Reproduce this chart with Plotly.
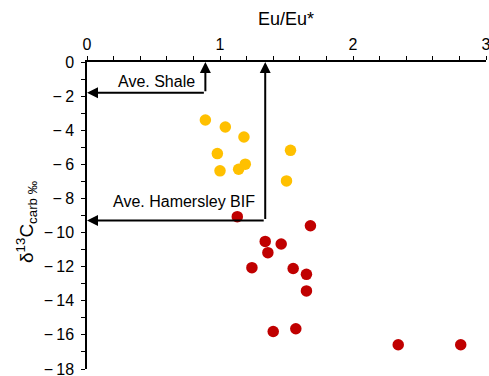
import plotly.graph_objects as go

# Data
yellow_x = [0.89, 1.04, 1.18, 0.98, 1.00, 1.14, 1.19, 1.53, 1.50]
yellow_y = [-3.40, -3.81, -4.40, -5.37, -6.38, -6.29, -5.99, -5.18, -6.97]
red_x = [1.13, 1.68, 1.34, 1.46, 1.36, 1.24, 1.55, 1.65, 1.65, 1.40, 1.57, 2.34, 2.81]
red_y = [-9.07, -9.60, -10.52, -10.67, -11.18, -12.06, -12.11, -12.45, -13.42,
         -15.80, -15.64, -16.58, -16.58]

ref_labels = ["Ave. Shale", "Ave. Hamersley BIF"]
ref_eu = [0.89, 1.34]
ref_c = [-1.8, -9.3]
ref_label_y = [-1.12, -8.18]

x_ticks = [0, 1, 2, 3]
x_ticktext = ["0", "1", "2", "3"]
y_ticks = [0, -2, -4, -6, -8, -10, -12, -14, -16, -18]
y_ticktext = ["0", "−\u20092", "−\u20094", "−\u20096", "−\u20098", "−\u200910",
              "−\u200912", "−\u200914", "−\u200916", "−\u200918"]

FONT = "Liberation Sans, Arial, sans-serif"

fig = go.Figure()
fig.add_trace(go.Scatter(x=yellow_x, y=yellow_y, mode="markers",
                         marker=dict(color="#FFC000", size=11.5, line=dict(width=0)),
                         showlegend=False, cliponaxis=False))
fig.add_trace(go.Scatter(x=red_x, y=red_y, mode="markers",
                         marker=dict(color="#C00000", size=11.5, line=dict(width=0)),
                         showlegend=False, cliponaxis=False))

annotations = []
for lab, ex, cy, ly in zip(ref_labels, ref_eu, ref_c, ref_label_y):
    annotations.append(dict(x=ex, y=0, ax=ex, ay=cy, xref="x", yref="y",
                            axref="x", ayref="y", text="", showarrow=True,
                            arrowhead=2, arrowsize=1.1, arrowwidth=2, arrowcolor="black"))
    annotations.append(dict(x=0, y=cy, ax=ex, ay=cy, xref="x", yref="y",
                            axref="x", ayref="y", text="", showarrow=True,
                            arrowhead=2, arrowsize=1.1, arrowwidth=2, arrowcolor="black"))
    annotations.append(dict(x=ex, y=ly, xref="x", yref="y", text=lab, showarrow=False,
                            xanchor="right", yanchor="middle", xshift=-8,
                            font=dict(family=FONT, size=16, color="black")))

annotations.append(dict(x=0.499, y=1, xref="paper", yref="paper", text="Eu/Eu*",
                        showarrow=False, xanchor="center", yanchor="middle", yshift=43,
                        font=dict(family=FONT, size=18, color="black")))
annotations.append(dict(x=-0.152, y=0.48, xref="paper", yref="paper",
                        text="δ<sup>13</sup>C<sub>carb ‰</sub>", textangle=-90,
                        showarrow=False, xanchor="center", yanchor="middle",
                        font=dict(family=FONT, size=19, color="black")))

fig.update_layout(
    width=489, height=376,
    margin=dict(l=87, r=3, t=62, b=7, autoexpand=False),
    paper_bgcolor="white", plot_bgcolor="white",
    font=dict(family=FONT, size=15, color="black"),
    annotations=annotations,
    xaxis=dict(range=[0, 3], side="top", tickvals=x_ticks, ticktext=x_ticktext,
               automargin=False,
               showgrid=False, zeroline=False, showline=True, linecolor="black", linewidth=1.5,
               ticks="outside", ticklen=4, tickwidth=1.2, tickcolor="black",
               ticklabeloverflow="allow",
               minor=dict(dtick=0.2, tick0=0, ticks="outside", ticklen=4, tickwidth=1.2,
                          tickcolor="black", showgrid=False),
               tickfont=dict(family=FONT, size=16, color="black")),
    yaxis=dict(range=[-18, 0], tickvals=y_ticks, ticktext=y_ticktext,
               automargin=False,
               showgrid=False, zeroline=False, showline=True, linecolor="black", linewidth=1.5,
               ticks="outside", ticklen=4, tickwidth=1.2, tickcolor="black",
               ticklabeloverflow="allow",
               minor=dict(dtick=1, tick0=0, ticks="outside", ticklen=4, tickwidth=1.2,
                          tickcolor="black", showgrid=False),
               tickfont=dict(family=FONT, size=16, color="black"), ticklabelstandoff=4),
)

fig.write_html("out.html")
